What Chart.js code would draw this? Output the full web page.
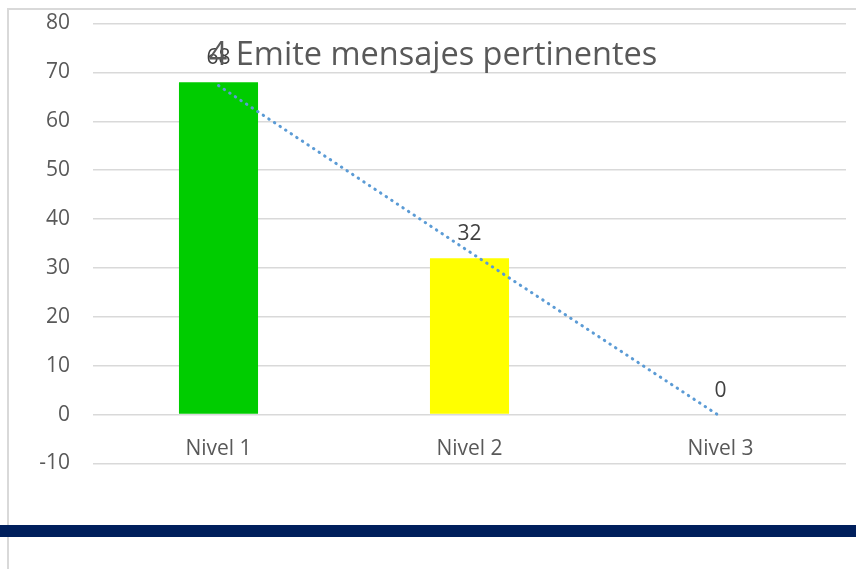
<!DOCTYPE html>
<html lang="es">
<head>
  <meta charset="UTF-8">
  <title>4 Emite mensajes pertinentes</title>
  <script src="https://cdn.jsdelivr.net/npm/chart.js"></script>
  <style>
    body {
      margin: 0;
      padding: 0;
      background: #ffffff;
      font-family: 'Open Sans', sans-serif;
    }

    .wrap {
      position: relative;
      width: 856px;
      height: 569px;
      overflow: hidden;
    }

    .frame {
      position: absolute;
      left: 7px;
      top: 8px;
      width: 900px;
      height: 600px;
      border-left: 2px solid #d9d9d9;
      border-top: 2px solid #d9d9d9;
    }

    .band {
      position: absolute;
      left: 0;
      top: 525px;
      width: 856px;
      height: 12px;
      background: #001f5c;
    }

    canvas {
      position: absolute;
      left: 0;
      top: 0;
    }
  </style>
</head>
<body>

  <div class="wrap">
    <div class="frame"></div>
    <canvas id="chart" width="856" height="569"></canvas>
    <div class="band"></div>
  </div>

  <script>
    // datos
    const categories = ['Nivel 1', 'Nivel 2', 'Nivel 3'];
    const values = [68, 32, 0];
    const trendValues = [67.3, 33.3, -0.4];
    const barColors = ['#00cc00', '#ffff00', '#5b9bd5'];
    const titleText = '4 Emite mensajes pertinentes';
    const yMin = -10;
    const yMax = 80;
    const yStep = 10;

    // título dibujado encima del área (como en Excel)
    const titlePlugin = {
      id: 'overlayTitle',
      afterDraw(chart) {
        const ctx = chart.ctx;
        ctx.save();
        ctx.font = '32.5px "Open Sans"';
        ctx.fillStyle = '#595959';
        ctx.textAlign = 'center';
        ctx.textBaseline = 'alphabetic';
        ctx.fillText(titleText, 433, 65);
        ctx.restore();
      }
    };

    // etiquetas de categoría bajo la línea del cero, y valores sobre las barras
    const labelsPlugin = {
      id: 'barLabels',
      afterDatasetsDraw(chart) {
        const ctx = chart.ctx;
        const x = chart.scales.x;
        const y0 = chart.scales.y.getPixelForValue(0);
        const meta = chart.getDatasetMeta(1);
        ctx.save();
        ctx.textAlign = 'center';
        ctx.textBaseline = 'middle';
        ctx.font = '21px "Open Sans"';
        ctx.fillStyle = '#595959';
        categories.forEach((c, i) => {
          ctx.fillText(c, x.getPixelForValue(i), y0 + 34);
        });
        ctx.fillStyle = '#404040';
        meta.data.forEach((bar, i) => {
          ctx.fillText(String(values[i]), bar.x, bar.y - 24);
        });
        ctx.restore();
      }
    };

    new Chart(document.getElementById('chart'), {
      data: {
        labels: categories,
        datasets: [
          {
            type: 'line',
            label: 'Tendencia',
            data: trendValues,
            borderColor: '#5b9bd5',
            borderWidth: 3,
            borderDash: [0.5, 6.2],
            borderCapStyle: 'round',
            pointRadius: 0,
            fill: false,
            tension: 0,
            order: 0
          },
          {
            type: 'bar',
            label: 'Emite mensajes pertinentes',
            data: values,
            backgroundColor: barColors,
            borderWidth: 0,
            barPercentage: 1,
            categoryPercentage: 0.315,
            order: 1
          }
        ]
      },
      options: {
        responsive: false,
        animation: false,
        layout: {
          padding: { left: 0, right: 10, top: 23.5, bottom: 105.5 }
        },
        plugins: {
          legend: { display: false },
          title: { display: false },
          tooltip: { enabled: false }
        },
        scales: {
          x: {
            display: false
          },
          y: {
            min: yMin,
            max: yMax,
            grid: { color: '#d9d9d9', lineWidth: 1.5, drawTicks: false },
            border: { display: false },
            ticks: {
              stepSize: yStep,
              color: '#595959',
              font: { family: 'Open Sans', size: 21 },
              padding: 23
            },
            afterFit(scale) {
              scale.width = 93;
              scale.paddingTop = 0;
              scale.paddingBottom = 0;
            }
          }
        }
      },
      plugins: [labelsPlugin, titlePlugin]
    });
  </script>

</body>
</html>
